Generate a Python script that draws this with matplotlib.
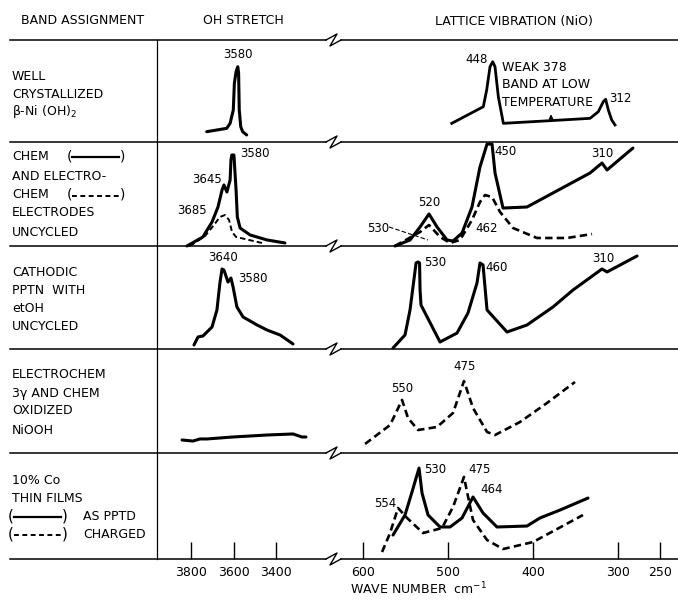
import matplotlib
matplotlib.use("Agg")
import matplotlib.pyplot as plt

plt.rcParams['font.family'] = ['DejaVu Sans']

W, H = 678, 605
fig = plt.figure(figsize=(W / 100, H / 100), dpi=100)

# ---------------- data (wavenumber cm-1, relative intensity 0-100 in each row) ----------------
r1_oh_w = [3726, 3632, 3616, 3601, 3596, 3588, 3580, 3576, 3573, 3566, 3557, 3538]
r1_oh_i = [10.1, 13.4, 18.3, 31.4, 57.5, 68.9, 73.8, 67.4, 31.4, 15.0, 10.1, 6.9]
r1_lat_w = [495.6, 458.5, 454.5, 450.6, 447.4, 444.7, 440.8, 434.9, 380, 332.9, 323.2, 317.3, 314.5, 311.4, 307.4, 303.5]
r1_lat_i = [18.3, 34.6, 51, 73.8, 78.7, 73.8, 44.4, 18.3, 20.9, 23.2, 29.7, 39.5, 41.9, 31.4, 21.6, 16.7]

r2_oh_solid_w = [3819, 3744, 3701, 3673, 3654, 3645, 3631, 3616, 3612, 3608, 3598, 3588, 3582, 3569, 3522, 3442, 3358]
r2_oh_solid_i = [0, 8.7, 23.1, 37.5, 53.8, 58.7, 51.9, 63.5, 82.7, 87.5, 87.5, 53.8, 27.9, 17.3, 10.6, 5.8, 2.9]
r2_oh_dash_w = [3805, 3734, 3692, 3664, 3640, 3621, 3607, 3588, 3546, 3485, 3466]
r2_oh_dash_i = [0, 9.6, 20.2, 27.9, 29.8, 25, 13.5, 8.7, 6.7, 3.8, 2.9]
r2_lat_solid_w = [562.4, 544.7, 532.9, 522.4, 512.9, 501.2, 494.1, 483.5, 471.8, 462.4, 454.1, 448.2, 444.7, 435.3, 407.1, 332.9, 318.8, 312.9, 282.4]
r2_lat_solid_i = [0, 5.8, 18.3, 30.8, 18.3, 5.8, 4.8, 12.5, 37.5, 76, 98, 98, 70.2, 36.5, 37.5, 70.2, 79.8, 73.1, 94.2]
r2_lat_dash_w = [562.4, 532.9, 522.4, 509.4, 497.6, 485.9, 471.8, 462.4, 456.5, 448.2, 438.8, 423.5, 395.3, 360, 330.6]
r2_lat_dash_i = [0, 13.5, 20.2, 8.7, 2.9, 5.8, 25, 42.3, 49, 47.1, 32.7, 17.3, 7.7, 7.7, 11.5]

r3_oh_w = [3786, 3767, 3744, 3701, 3678, 3664, 3654, 3645, 3626, 3612, 3602, 3584, 3555, 3489, 3442, 3381, 3320]
r3_oh_i = [3.9, 11.7, 12.6, 21.4, 37.9, 64.1, 77.7, 76.7, 65, 68.9, 60.2, 40.8, 31.1, 23.3, 18.4, 13.6, 4.9]
r3_lat_w = [564.7, 550.6, 544.7, 537.6, 535.3, 533.5, 532.9, 531.8, 509.4, 489.4, 476.5, 465.9, 462.4, 458.8, 454.1, 430.6, 407.1, 376.5, 352.9, 318.8, 312.9, 277.6]
r3_lat_i = [1, 13.6, 37.9, 83.5, 84.5, 83.5, 57.3, 42.7, 6.8, 15.5, 35, 64.1, 83.5, 81.6, 37.9, 16.5, 23.3, 40.8, 57.3, 77.7, 74.8, 90.3]

r4_oh_w = [3842, 3791, 3758, 3725, 3602, 3442, 3320, 3278, 3259]
r4_oh_i = [12.5, 11.5, 13.5, 13.5, 15.4, 17.3, 18.3, 15.4, 15.4]
r4_lat_w = [597.6, 568.2, 554.1, 547.1, 535.3, 512.9, 494.1, 481.2, 470.6, 454.1, 444.7, 415.3, 383.5, 350.6]
r4_lat_i = [8.7, 26.9, 51, 33.7, 22.1, 25, 38.5, 69.2, 43.3, 20.2, 17.3, 29.8, 48.1, 68.3]

r5_solid_w = [564.7, 550.6, 542.4, 534.1, 530.6, 523.5, 509.4, 497.6, 483.5, 470.6, 458.8, 442.4, 407.1, 391.8, 368.2, 335.3]
r5_solid_i = [22.6, 41.5, 63.2, 85.8, 62.3, 41.5, 30.2, 30.2, 38.7, 58.5, 43.4, 30.2, 31.1, 38.7, 46.2, 57.5]
r5_dash_w = [577.6, 568.2, 558.8, 548.2, 529.4, 507.1, 494.1, 481.2, 477.6, 470.6, 454.1, 435.3, 400, 341.2]
r5_dash_i = [6.6, 24.5, 48.1, 38.7, 24.5, 29.2, 49.1, 77.4, 63.2, 36.8, 17.9, 9.4, 16, 41.5]

oh_ticks = [3800, 3600, 3400]
lat_ticks = [600, 500, 400, 300, 250]

# peak labels: (text, wavenumber, intensity)
r1_oh_labels = [("3580", 3580, 85.3)]
r1_lat_labels = [("448", 466, 80.4), ("312", 297.6, 43.1)]
r2_oh_labels = [("3580", 3499, 89.4), ("3645", 3725, 63.5), ("3685", 3795, 34.6)]
r2_lat_labels = [("520", 522.4, 42.3), ("530", 582.4, 17.3), ("462", 454.1, 17.3), ("450", 432.9, 90.4), ("310", 318.8, 89.4)]
r3_oh_labels = [("3640", 3649, 89.3), ("3580", 3508, 68.9)]
r3_lat_labels = [("530", 515.3, 83.5), ("460", 442.4, 79.6), ("310", 317.6, 88.3)]
r4_lat_labels = [("550", 554.1, 62.5), ("475", 480, 82.7)]
r5_lat_labels = [("530", 515.3, 84), ("475", 462.4, 84), ("464", 448.2, 65.1), ("554", 574.1, 52.8)]

row_labels = [
    ["WELL", "CRYSTALLIZED", r"β-Ni (OH)$_2$"],
    ["CHEM", "AND ELECTRO-", "CHEM", "ELECTRODES", "UNCYCLED"],
    ["CATHODIC", "PPTN  WITH", "etOH", "UNCYCLED"],
    ["ELECTROCHEM", "3γ AND CHEM", "OXIDIZED", "NiOOH"],
    ["10% Co", "THIN FILMS"],
]

# ---------------- layout (pixels) ----------------
row_px = [(40, 142), (142, 246), (246, 349), (349, 453), (453, 559)]
oh_px = (157, 330)
lat_px = (340, 678)
oh_lim = (3960, 3146)
lat_lim = (627.1, 229.4)

LW = 2.2
DASH = (0, (2.8, 1.6))

# overlay axes in pixel units for frame and text
ov = fig.add_axes([0, 0, 1, 1])
ov.set_xlim(0, W)
ov.set_ylim(H, 0)
ov.axis('off')

hlines = [40, 142, 246, 349, 453, 559]
for y in hlines:
    ov.plot([10, 326], [y, y], color='black', lw=1.1)
    ov.plot([326, 337, 330, 341], [y, y - 6, y + 6, y], color='black', lw=1.0)
    ov.plot([341, 678], [y, y], color='black', lw=1.1)
ov.plot([157, 157], [40, 559], color='black', lw=0.9)

fs = 9
ov.text(83, 21, "BAND ASSIGNMENT", ha='center', va='center', fontsize=fs)
ov.text(243, 21, "OH STRETCH", ha='center', va='center', fontsize=fs)
ov.text(514, 21, "LATTICE VIBRATION (NiO)", ha='center', va='center', fontsize=fs)

label_y = [[77, 94, 111], [157, 177, 195, 213, 232], [272, 291, 309, 327], [375, 393, 411, 430], [480, 498]]
for lines, ys in zip(row_labels, label_y):
    for t, y in zip(lines, ys):
        ov.text(12, y, t, ha='left', va='center', fontsize=fs)

# legend bits in row 2
ov.text(69, 156, "(", ha='center', va='center', fontsize=fs + 1)
ov.plot([72, 119], [157, 157], color='black', lw=1.6)
ov.text(123, 156, ")", ha='center', va='center', fontsize=fs + 1)
ov.text(69, 194, "(", ha='center', va='center', fontsize=fs + 1)
ov.plot([72, 119], [196, 196], color='black', lw=1.4, ls=(0, (2.5, 1.8)))
ov.text(123, 194, ")", ha='center', va='center', fontsize=fs + 1)
# legend bits in row 5
ov.text(11, 516, "(", ha='center', va='center', fontsize=fs + 2)
ov.plot([14, 61], [517, 517], color='black', lw=1.6)
ov.text(65, 516, ")", ha='center', va='center', fontsize=fs + 2)
ov.text(83, 517, "AS PPTD", ha='left', va='center', fontsize=fs)
ov.text(11, 534, "(", ha='center', va='center', fontsize=fs + 2)
ov.plot([14, 61], [535, 535], color='black', lw=1.4, ls=(0, (2.5, 1.8)))
ov.text(65, 534, ")", ha='center', va='center', fontsize=fs + 2)
ov.text(83, 534, "CHARGED", ha='left', va='center', fontsize=fs)

ov.text(350, 589, r"WAVE NUMBER  cm$^{-1}$", ha='left', va='center', fontsize=fs)


def make_ax(xpx, ypx, lim):
    x0, x1 = xpx
    top, bot = ypx
    ax = fig.add_axes([x0 / W, 1 - bot / H, (x1 - x0) / W, (bot - top) / H])
    ax.set_xlim(*lim)
    ax.set_ylim(0, 100)
    ax.patch.set_alpha(0)
    for s in ax.spines.values():
        s.set_visible(False)
    ax.set_yticks([])
    ax.set_xticks([])
    return ax


def put_labels(ax, labels):
    for t, w, i in labels:
        ax.text(w, i, t, ha='center', va='center', fontsize=8.5)


axes_oh = [make_ax(oh_px, r, oh_lim) for r in row_px]
axes_lat = [make_ax(lat_px, r, lat_lim) for r in row_px]

kw = dict(color='black', lw=LW, solid_joinstyle='round', solid_capstyle='round', clip_on=False)
kwd = dict(color='black', lw=1.9, ls=DASH, dash_joinstyle='round', clip_on=False)

# row 1
axes_oh[0].plot(r1_oh_w, r1_oh_i, **kw)
put_labels(axes_oh[0], r1_oh_labels)
axes_lat[0].plot(r1_lat_w, r1_lat_i, color='black', lw=2.0, solid_joinstyle='round', clip_on=False)
put_labels(axes_lat[0], r1_lat_labels)
for k, t in enumerate(["WEAK 378", "BAND AT LOW", "TEMPERATURE"]):
    axes_lat[0].text(436.5, [73.5, 55.9, 39.2][k], t, ha='left', va='center', fontsize=fs)
axes_lat[0].annotate('', xy=(378.8, 30), xytext=(378.8, 20.5),
                     arrowprops=dict(arrowstyle='-|>', lw=1.0, mutation_scale=6, color='black'))

# row 2
axes_oh[1].plot(r2_oh_solid_w, r2_oh_solid_i, **kw)
axes_oh[1].plot(r2_oh_dash_w, r2_oh_dash_i, color='black', lw=1.4, ls=DASH, clip_on=False)
put_labels(axes_oh[1], r2_oh_labels)
axes_lat[1].plot(r2_lat_solid_w, r2_lat_solid_i, **kw)
axes_lat[1].plot(r2_lat_dash_w, r2_lat_dash_i, **kwd)
put_labels(axes_lat[1], r2_lat_labels)
axes_lat[1].plot([569.4, 523.5], [18.3, 5.8], color='black', lw=0.8, ls=(0, (4, 2)))

# row 3
axes_oh[2].plot(r3_oh_w, r3_oh_i, **kw)
put_labels(axes_oh[2], r3_oh_labels)
axes_lat[2].plot(r3_lat_w, r3_lat_i, **kw)
put_labels(axes_lat[2], r3_lat_labels)

# row 4
axes_oh[3].plot(r4_oh_w, r4_oh_i, **kw)
axes_lat[3].plot(r4_lat_w, r4_lat_i, **kwd)
put_labels(axes_lat[3], r4_lat_labels)

# row 5
axes_lat[4].plot(r5_solid_w, r5_solid_i, **kw)
axes_lat[4].plot(r5_dash_w, r5_dash_i, **kwd)
put_labels(axes_lat[4], r5_lat_labels)

for ax, ticks in ((axes_oh[4], oh_ticks), (axes_lat[4], lat_ticks)):
    ax.set_xticks(ticks)
    ax.set_xticklabels([str(t) for t in ticks])
    ax.tick_params(axis='x', direction='in', length=12, width=1.0, pad=5, labelsize=9)

fig.savefig("out.png", dpi=100)
